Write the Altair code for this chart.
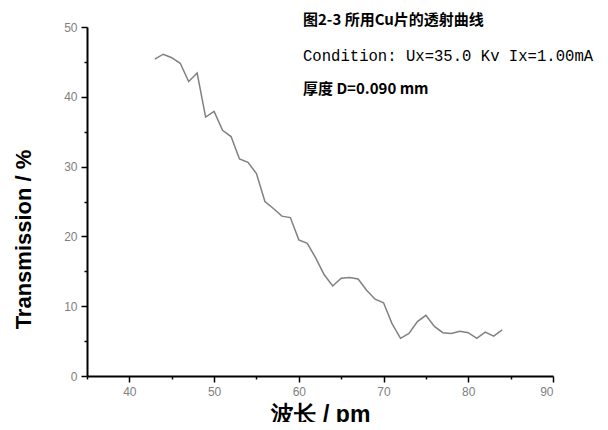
import altair as alt
import pandas as pd

wavelength = list(range(43, 85))
transmission = [45.4, 46.1, 45.6, 44.8, 42.2, 43.4, 37.1, 37.9, 35.2, 34.3,
                31.1, 30.6, 29.0, 25.0, 24.0, 22.9, 22.7, 19.5, 19.0, 16.9,
                14.5, 12.9, 14.0, 14.1, 13.9, 12.3, 11.0, 10.5, 7.5, 5.4,
                6.1, 7.8, 8.7, 7.1, 6.2, 6.1, 6.4, 6.2, 5.4, 6.3, 5.7, 6.6]

x_ticks = [35, 40, 45, 50, 55, 60, 65, 70, 75, 80, 85, 90]
y_ticks = [0, 5, 10, 15, 20, 25, 30, 35, 40, 45, 50]

notes = ["图2-3 所用Cu片的透射曲线", "Condition: Ux=35.0 Kv Ix=1.00mA", "厚度 D=0.090 mm"]

df = pd.DataFrame({"wl": wavelength, "t": transmission})

major_size = {"condition": {"test": "datum.value % 10 === 0", "value": 6}, "value": 3}

line = alt.Chart(df).mark_line(color="#808080", strokeWidth=1.5).encode(
    x=alt.X("wl:Q", scale=alt.Scale(domain=[35, 90], nice=False, zero=False),
            axis=alt.Axis(title="波长 / pm", values=x_ticks,
                          labelExpr="datum.value % 10 === 0 ? datum.label : ''",
                          tickSize=major_size, grid=False, labelPadding=4,
                          titlePadding=6, titleFontSize=23)),
    y=alt.Y("t:Q", scale=alt.Scale(domain=[0, 50], nice=False),
            axis=alt.Axis(title="Transmission / %", values=y_ticks,
                          labelExpr="datum.value % 10 === 0 ? datum.label : ''",
                          tickSize=major_size, grid=False, labelPadding=4,
                          titlePadding=28, titleY=212)),
)

t1 = alt.Chart(pd.DataFrame({"s": [notes[0]]})).mark_text(
    align="left", baseline="middle", font="Noto Sans CJK SC", fontSize=15,
    fontWeight="bold", color="black"
).encode(text="s:N", x=alt.value(216), y=alt.value(-7))

t2 = alt.Chart(pd.DataFrame({"s": [notes[1]]})).mark_text(
    align="left", baseline="middle", font="Liberation Mono", fontSize=15.6,
    color="black"
).encode(text="s:N", x=alt.value(216), y=alt.value(29))

t3 = alt.Chart(pd.DataFrame({"s": [notes[2]]})).mark_text(
    align="left", baseline="middle", font="Noto Sans CJK SC", fontSize=15,
    fontWeight="bold", color="black"
).encode(text="s:N", x=alt.value(216), y=alt.value(62))

chart = alt.layer(line, t1, t2, t3).properties(
    width=466, height=349,
    autosize=alt.AutoSizeParams(type="none"),
    padding={"left": 79, "top": 19, "right": 47, "bottom": 46},
    background="white",
).configure_view(stroke=None).configure_axis(
    domainColor="black", domainWidth=2, tickColor="black", tickWidth=1.5,
    labelColor="#808080", labelFont="Liberation Sans", labelFontSize=12,
    titleFont="Liberation Sans", titleFontWeight="bold", titleColor="black",
    titleFontSize=22,
)

chart.save("out.html", embed_options={"renderer": "svg", "actions": False})
